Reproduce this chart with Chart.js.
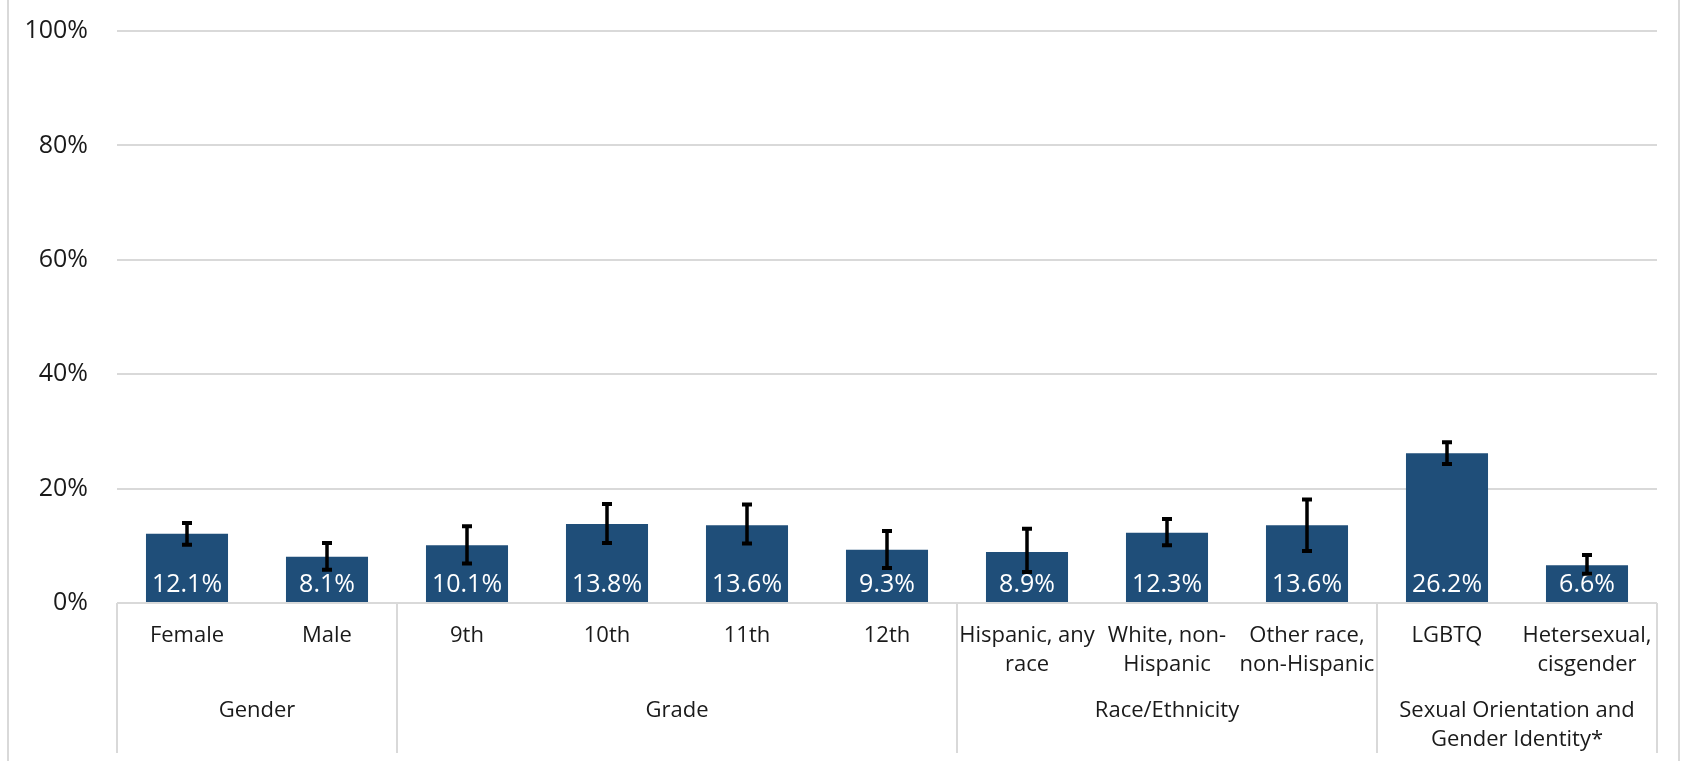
<!DOCTYPE html>
<html>
<head>
<meta charset="utf-8">
<script src="https://cdn.jsdelivr.net/npm/chart.js@4.4.1/dist/chart.umd.min.js"></script>
<style>
  html, body { margin: 0; padding: 0; background: #ffffff; }
  #wrap { width: 1683px; height: 761px; position: relative; }
</style>
</head>
<body>
<div id="wrap"><canvas id="c"></canvas></div>
<script>
// ---- data ----
const categories = [
  ["Female"], ["Male"],
  ["9th"], ["10th"], ["11th"], ["12th"],
  ["Hispanic, any", "race"], ["White, non-", "Hispanic"], ["Other race,", "non-Hispanic"],
  ["LGBTQ"], ["Hetersexual,", "cisgender"]
];
const values   = [12.1, 8.1, 10.1, 13.8, 13.6, 9.3, 8.9, 12.3, 13.6, 26.2, 6.6];
const errLow   = [10.2, 5.8, 6.9, 10.5, 10.4, 6.1, 5.4, 10.1, 9.1, 24.3, 5.1];
const errHigh  = [14.0, 10.5, 13.4, 17.3, 17.2, 12.6, 13.0, 14.7, 18.1, 28.1, 8.4];
const groupNames = [["Gender"], ["Grade"], ["Race/Ethnicity"], ["Sexual Orientation and", "Gender Identity*"]];
const groupSizes = [2, 4, 3, 2];
const yTicks = [0, 20, 40, 60, 80, 100];

const FONT = "'Open Sans', 'DejaVu Sans', sans-serif";
const TEXT = '#1a1a1a';
const GRID = '#d9d9d9';

const decorPlugin = {
  id: 'decor',
  afterDatasetsDraw(chart) {
    const ctx = chart.ctx;
    const meta = chart.getDatasetMeta(0);
    const y = chart.scales.y;
    ctx.save();
    // data labels
    ctx.fillStyle = '#ffffff';
    ctx.font = '25px ' + FONT;
    ctx.textAlign = 'center';
    ctx.textBaseline = 'alphabetic';
    meta.data.forEach((bar, i) => {
      ctx.fillText(values[i].toFixed(1) + '%', bar.x, y.getPixelForValue(0) - 11);
    });
    // error bars
    ctx.strokeStyle = '#000000';
    ctx.lineCap = 'butt';
    meta.data.forEach((bar, i) => {
      const yl = y.getPixelForValue(errLow[i]);
      const yh = y.getPixelForValue(errHigh[i]);
      ctx.lineWidth = 3.5;
      ctx.beginPath();
      ctx.moveTo(bar.x, yl); ctx.lineTo(bar.x, yh);
      ctx.stroke();
      ctx.lineWidth = 4;
      ctx.beginPath();
      ctx.moveTo(bar.x - 5, yl); ctx.lineTo(bar.x + 5, yl);
      ctx.moveTo(bar.x - 5, yh); ctx.lineTo(bar.x + 5, yh);
      ctx.stroke();
    });
    ctx.restore();
  },
  afterDraw(chart) {
    const ctx = chart.ctx;
    const x = chart.scales.x;
    const area = chart.chartArea;
    const step = (area.right - area.left) / categories.length;
    ctx.save();
    ctx.strokeStyle = GRID;
    ctx.lineWidth = 2;
    // group separators
    let idx = 0;
    const bounds = [0];
    groupSizes.forEach(s => { idx += s; bounds.push(idx); });
    bounds.forEach(b => {
      const px = Math.round(x.getPixelForValue(0) - step / 2 + b * step);
      ctx.beginPath();
      ctx.moveTo(px, area.bottom);
      ctx.lineTo(px, 753);
      ctx.stroke();
    });
    // outer border
    ctx.beginPath();
    ctx.moveTo(8, 0); ctx.lineTo(8, 761);
    ctx.moveTo(1679, 0); ctx.lineTo(1679, 761);
    ctx.stroke();
    // group labels
    ctx.fillStyle = TEXT;
    ctx.font = '22px ' + FONT;
    ctx.textAlign = 'center';
    ctx.textBaseline = 'middle';
    for (let g = 0; g < groupSizes.length; g++) {
      const left = x.getPixelForValue(0) - step / 2 + bounds[g] * step;
      const right = x.getPixelForValue(0) - step / 2 + bounds[g + 1] * step;
      const cx = (left + right) / 2;
      groupNames[g].forEach((line, li) => {
        ctx.fillText(line, cx, 711 + li * 29);
      });
    }
    ctx.restore();
  }
};

new Chart(document.getElementById('c'), {
  type: 'bar',
  data: {
    labels: categories,
    datasets: [{
      data: values,
      backgroundColor: '#1F4E79',
      categoryPercentage: 1.0,
      barPercentage: 0.586
    }]
  },
  options: {
    responsive: true,
    maintainAspectRatio: false,
    animation: false,
    layout: { padding: { top: 31, right: 26, left: 0, bottom: 0 } },
    plugins: { legend: { display: false }, tooltip: { enabled: false } },
    scales: {
      y: {
        min: 0, max: 100,
        afterBuildTicks: s => { s.ticks = yTicks.map(v => ({ value: v })); },
        ticks: {
          callback: v => v + '%',
          font: { family: FONT, size: 25 },
          color: TEXT,
          padding: 29
        },
        grid: { color: GRID, lineWidth: 2, drawTicks: false },
        border: { display: false },
        afterFit: s => { s.width = 117; s.paddingTop = 0; s.paddingBottom = 0; }
      },
      x: {
        grid: { display: false, drawTicks: false },
        border: { display: false },
        ticks: {
          font: { family: FONT, size: 22, lineHeight: 1.32 },
          color: TEXT,
          padding: 18,
          maxRotation: 0,
          autoSkip: false
        },
        afterFit: s => { s.height = 158; s.paddingLeft = 0; s.paddingRight = 0; }
      }
    }
  },
  plugins: [decorPlugin]
});
</script>
</body>
</html>
